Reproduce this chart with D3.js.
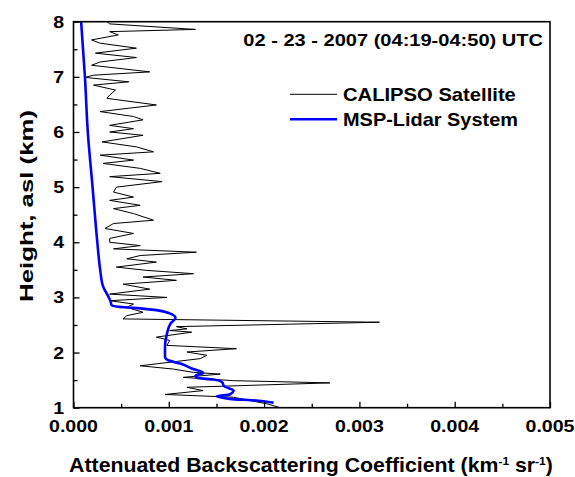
<!DOCTYPE html>
<html>
<head>
<meta charset="utf-8">
<script src="https://cdn.jsdelivr.net/npm/d3@7.9.0/dist/d3.min.js"></script>
<style>
  body { margin: 0; background: #fff; }
  svg { display: block; font-family: "Liberation Sans", Arial, sans-serif; font-weight: bold; }
</style>
</head>
<body>
<div id="chart"></div>
<script>
// CALIPSO profile: height (km) and backscatter (x1e-3 km^-1 sr^-1)
const calipsoHeight = [8.00, 7.96, 7.86, 7.82, 7.76, 7.67, 7.61, 7.52, 7.43, 7.35, 7.27, 7.21, 7.09, 7.03, 6.99,
  6.91, 6.85, 6.76, 6.67, 6.61, 6.49, 6.37, 6.28, 6.22, 6.12, 6.06, 6.00, 5.94, 5.82, 5.73, 5.64, 5.58,
  5.49, 5.43, 5.34, 5.25, 5.19, 5.10, 5.00, 4.91, 4.82, 4.76, 4.67, 4.61, 4.52, 4.40, 4.34, 4.25, 4.16,
  4.07, 4.00, 3.94, 3.88, 3.82, 3.76, 3.70, 3.64, 3.55, 3.49, 3.43, 3.37, 3.31, 3.24, 3.15, 3.06, 3.00,
  2.94, 2.88, 2.82, 2.73, 2.67, 2.61, 2.55, 2.47, 2.43, 2.40, 2.37, 2.28, 2.22, 2.13, 2.07, 2.01, 1.95,
  1.89, 1.76, 1.70, 1.64, 1.61, 1.55, 1.49, 1.45, 1.37, 1.31, 1.24, 1.19, 1.13, 1.07, 1.00];
const calipsoValue = [0.35, 0.38, 1.28, 0.38, 0.47, 0.19, 0.28, 0.66, 0.23, 0.66, 0.28, 0.19, 0.80, 0.21, 0.12,
  0.58, 0.21, 0.44, 0.38, 0.35, 0.87, 0.28, 0.63, 0.73, 0.38, 0.63, 0.38, 0.73, 0.30, 0.66, 0.84, 0.28,
  0.63, 0.31, 0.70, 0.91, 0.38, 0.93, 0.45, 0.42, 0.63, 0.38, 0.70, 0.42, 0.63, 0.84, 0.42, 0.33, 0.63,
  0.38, 0.38, 0.70, 0.42, 1.29, 0.70, 0.56, 0.87, 0.45, 0.77, 1.26, 0.73, 1.08, 0.52, 0.80, 0.38, 0.98,
  0.38, 0.63, 0.56, 0.73, 0.56, 0.52, 3.21, 1.08, 1.19, 1.01, 1.24, 0.87, 1.01, 0.98, 1.71, 1.19, 1.40,
  1.33, 0.70, 1.05, 1.26, 1.54, 1.15, 1.68, 2.69, 1.19, 1.36, 0.96, 1.68, 1.85, 2.03, 2.17];

// MSP-Lidar profile
const lidarHeight = [8.00, 7.00, 6.00, 5.00, 4.00, 3.50, 3.20, 3.00, 2.92, 2.86, 2.83, 2.81, 2.77, 2.71, 2.63,
  2.53, 2.34, 2.10, 1.92, 1.85, 1.80, 1.71, 1.63, 1.58, 1.54, 1.51, 1.46, 1.39, 1.31, 1.24, 1.21, 1.16,
  1.13, 1.09];
const lidarValue = [0.08, 0.12, 0.15, 0.20, 0.25, 0.28, 0.31, 0.37, 0.39, 0.40, 0.47, 0.63, 0.87, 1.01, 1.07,
  1.02, 0.98, 0.96, 0.96, 1.01, 1.12, 1.24, 1.36, 1.28, 1.30, 1.47, 1.56, 1.58, 1.68, 1.64, 1.50, 1.64,
  1.92, 2.10];

const xTicks = [0, 0.001, 0.002, 0.003, 0.004, 0.005];
const yTicks = [1, 2, 3, 4, 5, 6, 7, 8];
const seriesNames = ["CALIPSO Satellite", "MSP-Lidar System"];
const titleText = "02 - 23 - 2007 (04:19-04:50) UTC";

const width = 575, height = 477;
const plot = { left: 73.5, right: 550, top: 21.7, bottom: 407.7 };

const svg = d3.select('#chart').append('svg')
  .attr('width', width).attr('height', height);

const xScale = d3.scaleLinear().domain([0, 0.005]).range([plot.left, plot.right]);
const yScale = d3.scaleLinear().domain([1, 8]).range([plot.bottom, plot.top]);

// squeeze / stretch text to a measured width
function fit(sel, target, x, y, rot) {
  const w = sel.node().getComputedTextLength();
  const sx = target / w;
  sel.attr('transform', `translate(${x},${y})${rot ? ' rotate(' + rot + ')' : ''} scale(${sx},1)`);
}

const calipso = calipsoHeight.map((h, i) => ({ h, v: calipsoValue[i] / 1000 }));
const lidar = lidarHeight.map((h, i) => ({ h, v: lidarValue[i] / 1000 }));

svg.append('clipPath').attr('id', 'clip').append('rect')
  .attr('x', plot.left).attr('y', plot.top)
  .attr('width', plot.right - plot.left).attr('height', plot.bottom - plot.top);

const lines = svg.append('g').attr('clip-path', 'url(#clip)');

lines.append('path')
  .datum(calipso)
  .attr('fill', 'none')
  .attr('stroke', '#000')
  .attr('stroke-width', 1)
  .attr('d', d3.line().x(d => xScale(d.v)).y(d => yScale(d.h)));

lines.append('path')
  .datum(lidar)
  .attr('fill', 'none')
  .attr('stroke', '#0000ff')
  .attr('stroke-width', 2.6)
  .attr('d', d3.line().curve(d3.curveMonotoneY).x(d => xScale(d.v)).y(d => yScale(d.h)));

// axes with inward ticks
const xMinor = d3.range(0.0005, 0.005, 0.001);
const yMinor = d3.range(1.5, 8, 1);

const xAxis = svg.append('g').attr('transform', `translate(0,${plot.bottom})`);
xAxis.call(d3.axisTop(xScale).tickValues(xTicks).tickSize(6).tickFormat(''));
xAxis.append('g').call(d3.axisTop(xScale).tickValues(xMinor).tickSize(4).tickFormat(''));

const yAxis = svg.append('g').attr('transform', `translate(${plot.left},0)`);
yAxis.call(d3.axisRight(yScale).tickValues(yTicks).tickSize(6).tickFormat(''));
yAxis.append('g').call(d3.axisRight(yScale).tickValues(yMinor).tickSize(4).tickFormat(''));

svg.selectAll('.domain').remove();
svg.selectAll('.tick line').attr('stroke', '#000').attr('stroke-width', 1.3);

svg.append('rect')
  .attr('x', plot.left).attr('y', plot.top)
  .attr('width', plot.right - plot.left).attr('height', plot.bottom - plot.top)
  .attr('fill', 'none').attr('stroke', '#000').attr('stroke-width', 1.6);

// tick labels
xTicks.forEach(t => {
  const lab = svg.append('text').attr('font-size', 17).attr('text-anchor', 'middle')
    .text(d3.format('.3f')(t));
  fit(lab, 49, xScale(t), 431.7);
});
yTicks.forEach(t => {
  svg.append('text').attr('font-size', 17).attr('text-anchor', 'end')
    .attr('transform', `translate(64,${yScale(t) + 6}) scale(1.15,1)`)
    .text(t);
});

// axis titles
const xLab = svg.append('text').attr('font-size', 19.5).attr('text-anchor', 'middle');
xLab.append('tspan').text('Attenuated Backscattering Coefficient (km');
xLab.append('tspan').attr('font-size', 11).attr('dy', -7).text('-1');
xLab.append('tspan').attr('dy', 7).text(' sr');
xLab.append('tspan').attr('font-size', 11).attr('dy', -7).text('-1');
xLab.append('tspan').attr('dy', 7).text(')');
fit(xLab, 484, 311, 471.7);

const yLab = svg.append('text').attr('font-size', 17.7).attr('text-anchor', 'middle')
  .text('Height, asl (km)');
fit(yLab, 192, 33.3, 206, -90);

// title
const title = svg.append('text').attr('font-size', 17).attr('text-anchor', 'end').text(titleText);
fit(title, 300, 543, 45.5);

// legend
const legendY = [94.3, 119.3];
const legendColor = ['#000', '#0000ff'];
const legendWidth = [1, 2.6];
const legendTextW = [173, 175];
seriesNames.forEach((name, i) => {
  svg.append('line')
    .attr('x1', 290).attr('x2', 337)
    .attr('y1', legendY[i]).attr('y2', legendY[i])
    .attr('stroke', legendColor[i]).attr('stroke-width', legendWidth[i]);
  const t = svg.append('text').attr('font-size', 17.5).text(name);
  fit(t, legendTextW[i], 343, legendY[i] + 6.5);
});
</script>
</body>
</html>
